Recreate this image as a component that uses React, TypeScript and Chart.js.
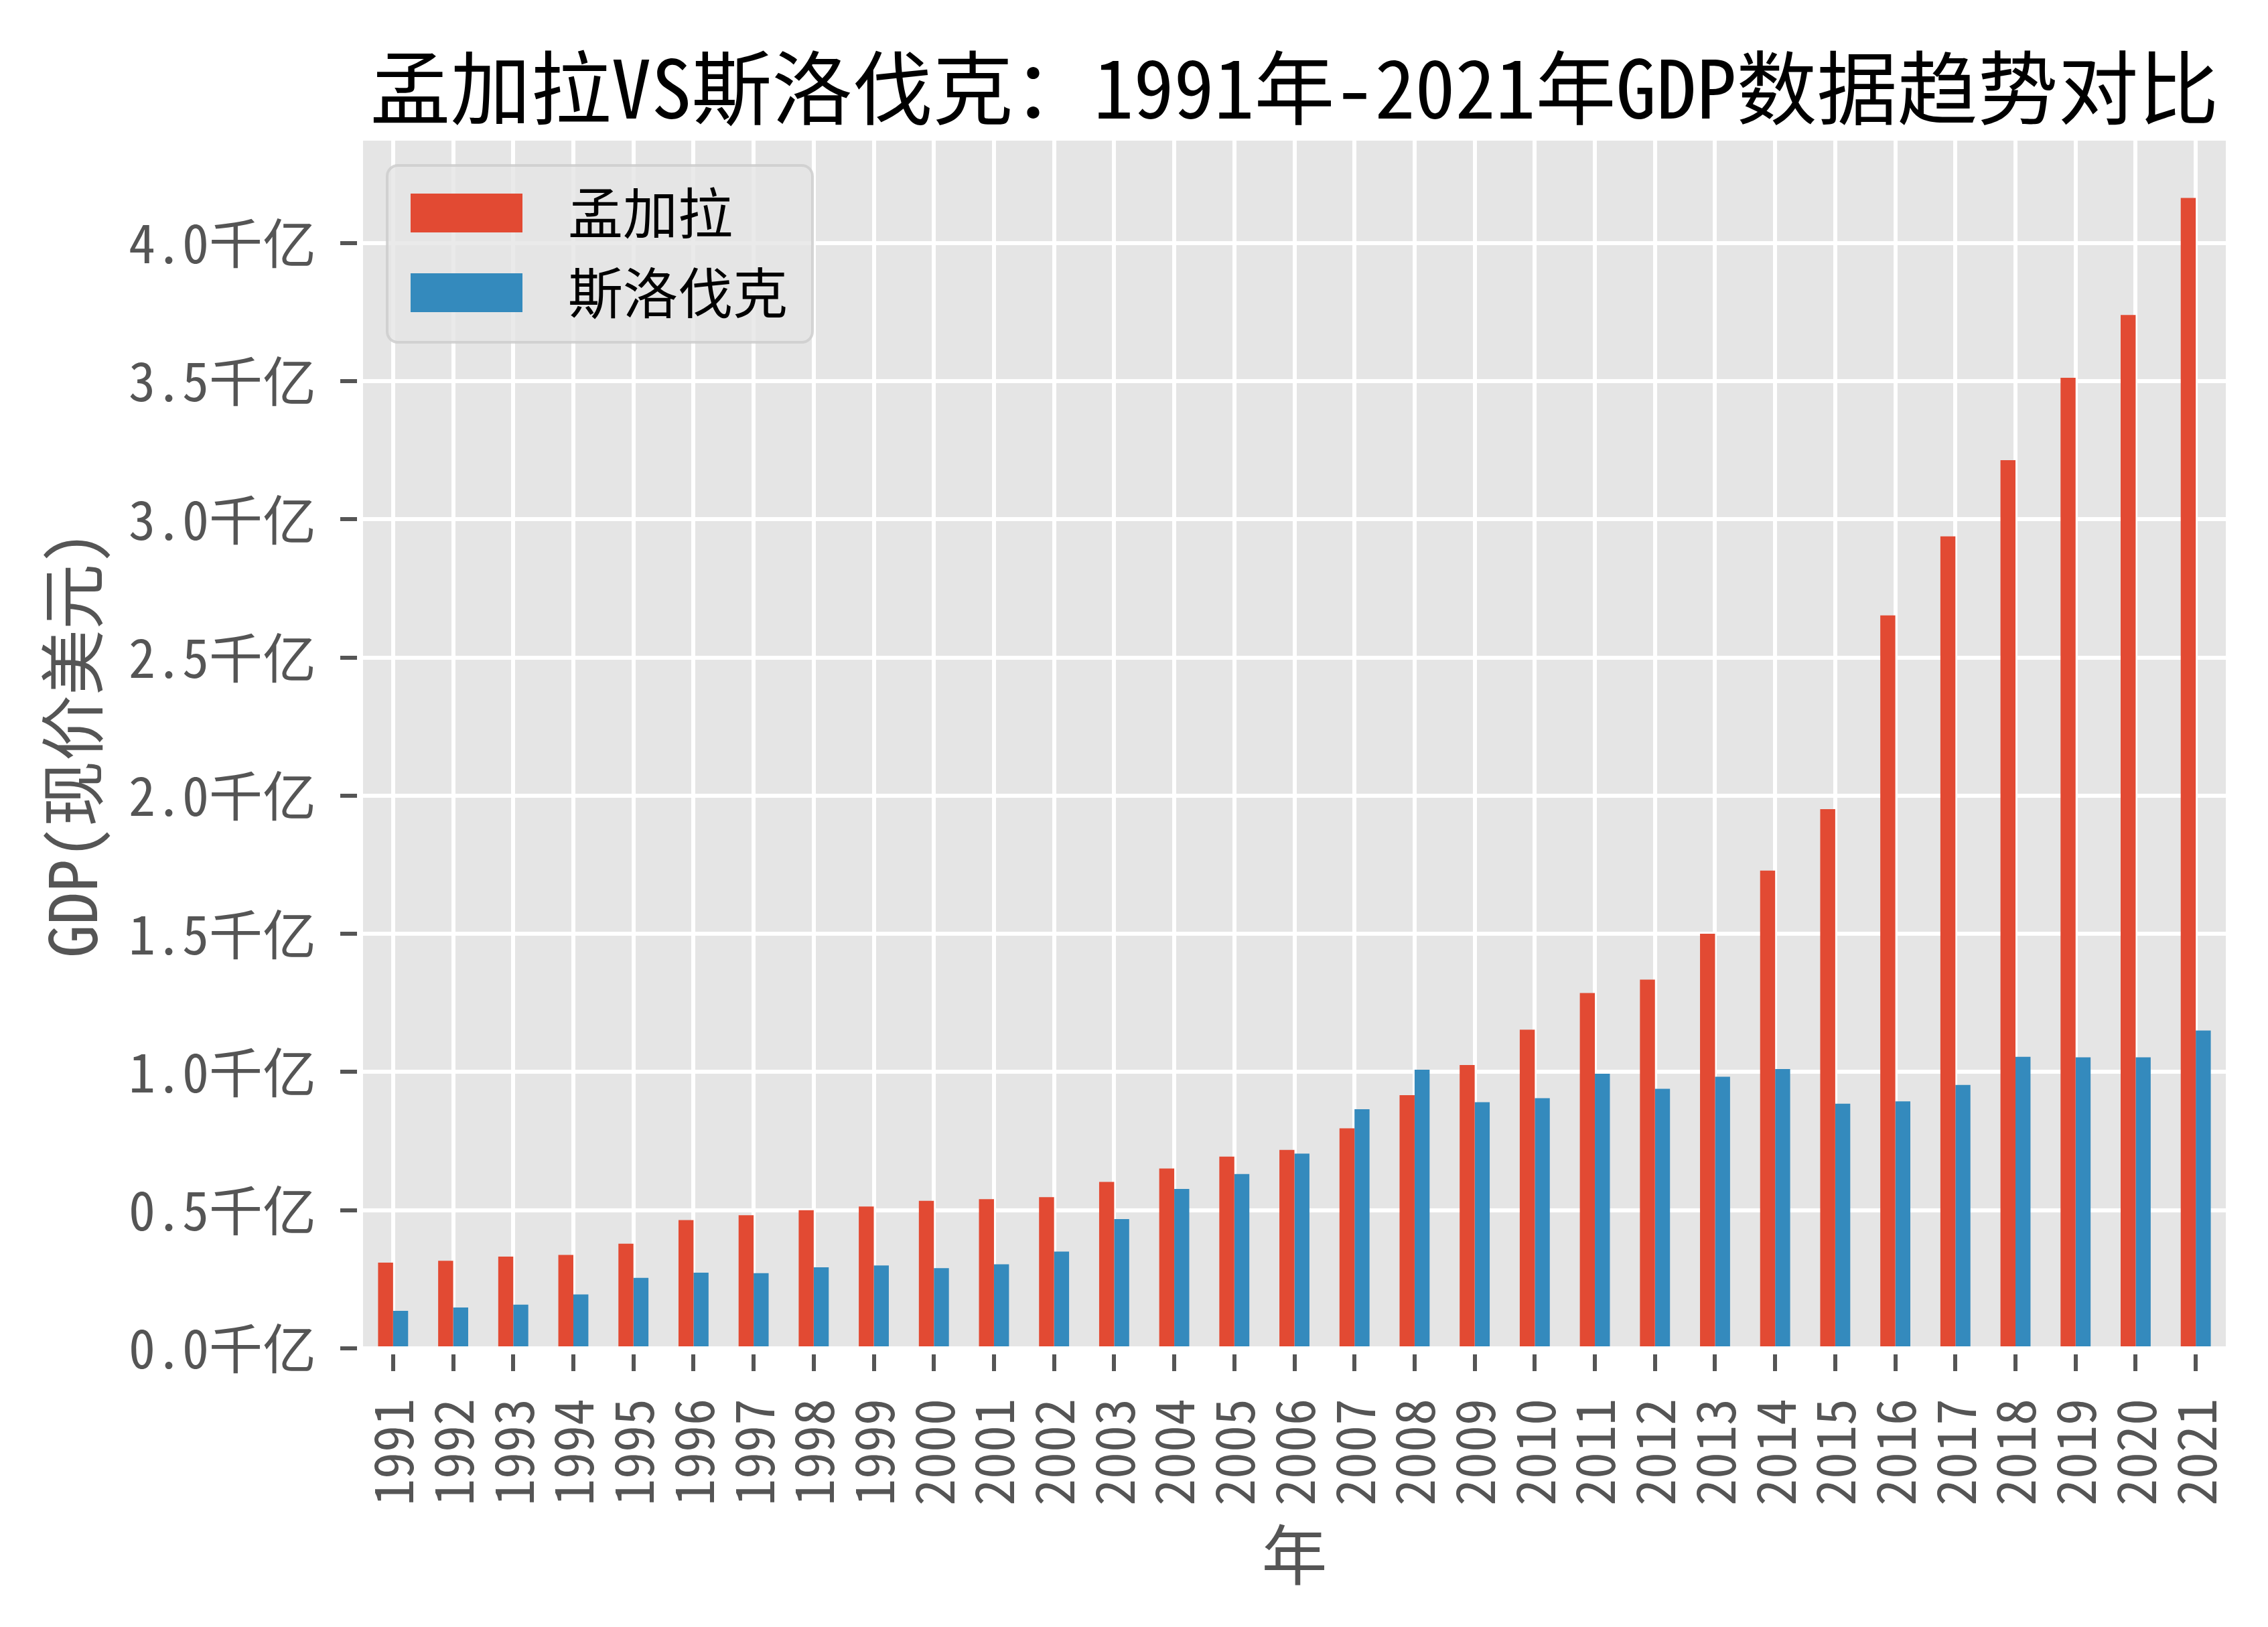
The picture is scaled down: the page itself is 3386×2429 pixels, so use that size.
import React, { useEffect, useRef } from 'react';
import { Chart, registerables } from 'chart.js';

Chart.register(...registerables);

// ---- data (GDP, current US$, in 千亿 = 1e11 USD) ----
const years = [
  '1991', '1992', '1993', '1994', '1995', '1996', '1997', '1998', '1999', '2000',
  '2001', '2002', '2003', '2004', '2005', '2006', '2007', '2008', '2009', '2010',
  '2011', '2012', '2013', '2014', '2015', '2016', '2017', '2018', '2019', '2020', '2021',
];
const bangladesh = [
  0.310, 0.317, 0.332, 0.338, 0.379, 0.464, 0.482, 0.500, 0.513, 0.534,
  0.540, 0.547, 0.602, 0.651, 0.694, 0.718, 0.796, 0.916, 1.025, 1.153,
  1.286, 1.334, 1.500, 1.729, 1.951, 2.652, 2.938, 3.214, 3.512, 3.739, 4.163,
];
const slovakia = [
  0.136, 0.148, 0.158, 0.195, 0.255, 0.274, 0.272, 0.293, 0.300, 0.290,
  0.304, 0.350, 0.468, 0.577, 0.631, 0.705, 0.865, 1.008, 0.891, 0.905,
  0.994, 0.939, 0.983, 1.011, 0.885, 0.894, 0.953, 1.055, 1.053, 1.053, 1.150,
];
const seriesNames = ['孟加拉', '斯洛伐克'];
const seriesColors = ['#E24A33', '#348ABD'];
const titleText = '孟加拉VS斯洛伐克：1991年-2021年GDP数据趋势对比';
const xTitle = '年';
const yTitle = 'GDP(现价美元)';
const yUnit = '千亿';

const W = 3386;
const H = 2429;
const FONT = "'Noto Sans Mono CJK SC', 'Noto Sans CJK SC', sans-serif";
const TICK_GAP = 9;

const backgroundPlugin = {
  id: 'ggBackground',
  beforeDraw(chart: any) {
    const { ctx, chartArea: a } = chart;
    ctx.save();
    ctx.fillStyle = '#ffffff';
    ctx.fillRect(0, 0, chart.width, chart.height);
    ctx.fillStyle = '#E5E5E5';
    ctx.fillRect(a.left, a.top, a.right - a.left, a.bottom - a.top);
    ctx.restore();
  },
  beforeDatasetsDraw(chart: any) {
    // white spine gap between plot and tick marks
    const { ctx, chartArea: a } = chart;
    ctx.save();
    ctx.fillStyle = '#ffffff';
    ctx.fillRect(a.left - TICK_GAP, a.bottom, a.right - a.left + TICK_GAP, TICK_GAP);
    ctx.fillRect(a.left - TICK_GAP, a.top, TICK_GAP, a.bottom - a.top + TICK_GAP);
    ctx.restore();
  },
};

const legendPlugin = {
  id: 'ggLegend',
  afterDatasetsDraw(chart: any) {
    const { ctx, chartArea: a } = chart;
    const bx = a.left + 36;
    const by = a.top + 37;
    const bw = 635;
    const bh = 264;
    ctx.save();
    ctx.beginPath();
    (ctx as any).roundRect(bx, by, bw, bh, 16);
    ctx.fillStyle = 'rgba(229,229,229,0.8)';
    ctx.fill();
    ctx.lineWidth = 4;
    ctx.strokeStyle = 'rgba(204,204,204,0.8)';
    ctx.stroke();
    const rows = [108, 227];
    chart.data.datasets.forEach((ds: any, i: number) => {
      const cy = a.top + rows[i];
      ctx.fillStyle = ds.backgroundColor;
      ctx.fillRect(bx + 35, cy - 29, 167, 58);
      ctx.fillStyle = '#000000';
      ctx.font = `82px ${FONT}`;
      ctx.textBaseline = 'middle';
      ctx.textAlign = 'left';
      ctx.fillText(ds.label, bx + 270, cy);
    });
    ctx.restore();
  },
};

export default function App() {
  const ref = useRef<HTMLCanvasElement>(null);

  useEffect(() => {
    document.body.style.margin = '0';
    const gridCommon = {
      color: '#ffffff',
      lineWidth: 6,
      drawTicks: true,
      tickLength: 34,
      tickColor: '#555555',
      tickWidth: 6,
    };
    const chart = new Chart(ref.current as HTMLCanvasElement, {
      type: 'bar',
      data: {
        labels: years,
        datasets: [
          {
            label: seriesNames[0],
            data: bangladesh,
            backgroundColor: seriesColors[0],
            borderWidth: 0,
            categoryPercentage: 0.5,
            barPercentage: 1.0,
          },
          {
            label: seriesNames[1],
            data: slovakia,
            backgroundColor: seriesColors[1],
            borderWidth: 0,
            categoryPercentage: 0.5,
            barPercentage: 1.0,
          },
        ],
      },
      options: {
        animation: false,
        responsive: false,
        devicePixelRatio: 1,
        layout: { padding: { left: 0, right: 63, top: 0, bottom: 0 } },
        font: { family: FONT },
        plugins: {
          legend: { display: false },
          tooltip: { enabled: false },
          title: {
            display: true,
            text: titleText,
            color: '#000000',
            fullSize: false,
            font: { family: FONT, size: 120, weight: 'normal' },
            padding: { top: 59, bottom: 7 },
          },
        },
        scales: {
          x: {
            type: 'category',
            offset: true,
            grid: { ...gridCommon, offset: false },
            border: { display: false },
            ticks: {
              autoSkip: false,
              minRotation: 90,
              maxRotation: 90,
              padding: 41,
              color: '#555555',
              font: { family: FONT, size: 80 },
            },
            title: {
              display: true,
              text: xTitle,
              color: '#555555',
              font: { family: FONT, size: 98 },
              padding: { top: 0, bottom: 49 },
            },
            afterFit(scale: any) {
              scale.height = 416;
              scale.paddingLeft = 0;
              scale.paddingRight = 0;
            },
          },
          y: {
            type: 'linear',
            min: 0,
            max: 4.37,
            grid: gridCommon,
            border: { display: false },
            ticks: {
              stepSize: 0.5,
              includeBounds: false,
              padding: 36,
              color: '#555555',
              font: { family: FONT, size: 80 },
              callback: (v: any) => Number(v).toFixed(1) + yUnit,
            },
            title: {
              display: true,
              text: yTitle,
              color: '#555555',
              font: { family: FONT, size: 98 },
              padding: { top: 49, bottom: 0 },
            },
            afterFit(scale: any) {
              scale.width = 542;
              scale.paddingTop = 0;
              scale.paddingBottom = 0;
            },
          },
        },
      } as any,
      plugins: [backgroundPlugin, legendPlugin],
    });
    return () => chart.destroy();
  }, []);

  return (
    <div style={{ position: 'absolute', left: 0, top: 0, width: W, height: H, background: '#ffffff' }}>
      <canvas ref={ref} width={W} height={H} style={{ width: W, height: H, display: 'block' }} />
    </div>
  );
}
